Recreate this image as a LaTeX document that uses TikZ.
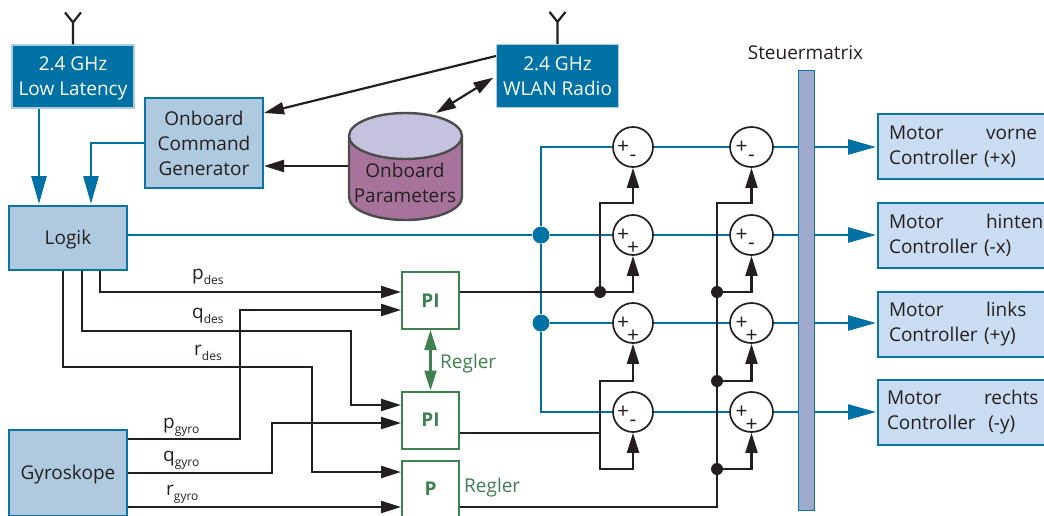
\documentclass[tikz,border=0pt]{standalone}
\usepackage{fontspec}
\setmainfont{Open Sans}
\usetikzlibrary{positioning, arrows.meta, shapes.geometric, calc}
\definecolor{dkblue}{HTML}{0071A4}
\definecolor{lineblue}{HTML}{0A75A5}
\definecolor{ltblue}{HTML}{AFCADF}
\definecolor{motorblue}{HTML}{CADCF1}
\definecolor{barblue}{HTML}{9FA9CC}
\definecolor{inkblack}{HTML}{231F20}
\definecolor{ctrlgreen}{HTML}{3F8050}
\definecolor{parambody}{HTML}{A8739B}
\definecolor{paramtop}{HTML}{C5C2DF}
\newcommand{\siglabel}[2]{#1\raisebox{-5pt}{\fontsize{12}{12}\selectfont #2}}
\newcommand{\motorline}[2]{\makebox[97pt][l]{#1}#2}
\newcommand{\pushdown}{\rule{0pt}{18pt}}

\begin{document}
\begin{tikzpicture}[
        x=1pt, y=-1pt,
        font=\fontsize{19}{25}\selectfont,
        text=inkblack,
        radio/.style={draw=ltblue, line width=1.2pt, fill=dkblue, text=white, minimum width=122pt, minimum height=63pt, inner sep=0pt, align=center},
        logicbox/.style={draw=lineblue, line width=2pt, fill=ltblue, minimum width=118pt, inner sep=0pt, align=center},
        motorbox/.style={draw=lineblue, line width=2pt, fill=motorblue, minimum width=182pt, minimum height=65pt, inner xsep=11pt, inner ysep=0pt, text width=160pt, align=left, anchor=north west},
        ctrl/.style={draw=ctrlgreen, line width=2pt, fill=white, text=ctrlgreen, font=\fontsize{19}{25}\selectfont\bfseries, minimum size=57pt, inner sep=0pt},
        sumA/.style={circle, draw=inkblack, line width=1.7pt, fill=white, minimum size=40pt, inner sep=0pt},
        sumB/.style={ellipse, draw=inkblack, line width=1.7pt, fill=white, minimum width=43pt, minimum height=40pt, inner sep=0pt},
        sign/.style={font=\fontsize{21}{21}\selectfont, inner sep=0pt},
        upplus/.style={label={[sign, xshift=-10pt]center:+}},
        lowplus/.style={label={[sign, yshift=-13pt]center:+}},
        lowminus/.style={label={[sign, yshift=-11pt]center:-}},
        bjoin/.style={circle, fill=dkblue, minimum size=17pt, inner sep=0pt},
        kjoin/.style={circle, fill=inkblack, minimum size=12pt, inner sep=0pt},
        sig/.style={anchor=base west, inner sep=0pt},
        can/.style={draw=black!70, line width=2.4pt},
        blarr/.style={line width=2.7pt, draw=dkblue, -{Triangle[length=28pt, width=15pt]}, shorten >=1pt},
        blline/.style={line width=2.7pt, draw=dkblue},
        karr/.style={line width=2.2pt, draw=inkblack, -{Triangle[length=20pt, width=12pt]}},
        kline/.style={line width=2.2pt, draw=inkblack},
    ]
    \clip (0,0) rectangle (1044,515);

    % Radio links
    \node[radio] (low) at (73,76.5) {\pushdown 2.4 GHz\\Low Latency};
    \node[radio] (wlan) at (557.5,76) {2.4 GHz\\WLAN Radio};
    \draw[kline] (low.north) -- ++(0,-22) -- ++(-8,-10) ++(8,10) -- ++(8,-10);
    \draw[kline] (wlan.north) -- ++(0,-22) -- ++(-8,-10) ++(8,10) -- ++(8,-10);

    % Onboard blocks
    \node[logicbox, minimum height=90pt] (gen) at (204,143) {Onboard\\Command\\Generator};
    \draw[can, fill=parambody] (349,136) -- (349,197) arc[start angle=180, end angle=360, x radius=56.5pt, y radius=23pt] -- (462,136);
    \draw[can, fill=paramtop] (405.5,136) ellipse [x radius=56.5pt, y radius=23pt];
    \node[minimum width=113pt, inner sep=0pt, align=center] (param) at (405,183) {Onboard\\Parameters};
    \coordinate (cantop) at (436,113);

    % Logic and sensors
    \node[logicbox, minimum height=64pt] (logik) at (68,238) {\pushdown Logik};
    \node[logicbox, minimum height=86pt] (gyro) at (68,473) {\pushdown Gyroskope};

    % Controllers
    \node[ctrl] (pi1) at (430.5,300.5) {PI};
    \node[ctrl, below=60.5pt of pi1] (pi2) {PI};
    \node[ctrl, below=10pt of pi2] (p3) {P};
    \node[text=ctrlgreen, sig] (regler1) at (440,368) {Regler};
    \node[text=ctrlgreen, sig] (regler2) at (464,492) {Regler};

    % Mixer sums
    \node[sumA, upplus, lowminus] (s11) at (633,147) {};
    \node[sumA, upplus, lowplus] (s21) at (633,235) {};
    \node[sumA, upplus, lowplus] (s31) at (633,323) {};
    \node[sumA, upplus, lowminus] (s41) at (633,412) {};
    \node[sumB, upplus, lowminus] (s12) at (751.5,147) {};
    \node[sumB, upplus, lowminus] (s22) at (751.5,235) {};
    \node[sumB, upplus, lowplus] (s32) at (751.5,323) {};
    \node[sumB, upplus, lowplus] (s42) at (751.5,412) {};

    % Steuermatrix and motors
    \node[draw=lineblue, line width=1.6pt, fill=barblue, minimum width=16pt, minimum height=440pt, inner sep=0pt] (bar) at (806.5,290.5) {};
    \node[inner sep=0pt] (bartext) at (805.5,53) {Steuermatrix};
    \node[motorbox] (m1) at (877,113) {\motorline{Motor}{vorne}\\Controller (+x)};
    \node[motorbox, below=22pt of m1] (m2) {\motorline{Motor}{hinten}\\Controller (-x)};
    \node[motorbox, below=22pt of m2] (m3) {\motorline{Motor}{links}\\Controller (+y)};
    \node[motorbox, below=21pt of m3] (m4) {\hspace*{-2pt}\motorline{Motor}{rechts}\\\hspace*{-2pt}Controller\ \ (-y)};

    % Junctions
    \node[bjoin] (j1) at (541,235) {};
    \node[bjoin] (j2) at (541,323) {};
    \node[kjoin] (k1) at (600,292) {};
    \coordinate (k5) at (600,433);
    \node[kjoin] (k2) at (717,292) {};
    \node[kjoin] (k3) at (717,381) {};
    \node[kjoin] (k4) at (717,469) {};

    % Blue signal paths
    \draw[blarr] (low.south -| 39,0) -- (logik.north -| 39,0);
    \draw[blarr] (gen.west) -| (logik.north -| 91,0);
    \draw[blline] (j1 -| logik.east) -- (j1) -- (j2);
    \draw[blline] (s11.west) -| (j1);
    \draw[blline] (j1) -- (s21.west);
    \draw[blline] (j2) -- (s31.west);
    \draw[blline] (s41.west) -| (j2);
    \draw[blline] (s11) -- (s12);
    \draw[blline] (s21) -- (s22);
    \draw[blline] (s31) -- (s32);
    \draw[blline] (s41) -- (s42);
    \draw[blline] (s12.east) -- (s12.east -| bar.west);
    \draw[blline] (s22.east) -- (s22.east -| bar.west);
    \draw[blline] (s32.east) -- (s32.east -| bar.west);
    \draw[blline] (s42.east) -- (s42.east -| bar.west);
    \draw[blarr] (s12.east -| bar.east) -- (s12.east -| m1.west);
    \draw[blarr] (s22.east -| bar.east) -- (s22.east -| m2.west);
    \draw[blarr] (s32.east -| bar.east) -- (s32.east -| m3.west);
    \draw[blarr] (s42.east -| bar.east) -- (s42.east -| m4.west);

    % Onboard arrows
    \draw[karr] ([yshift=20pt]wlan.west) -- ([yshift=30pt]gen.east);
    \draw[karr, {Triangle[length=20pt, width=12pt]}-{Triangle[length=20pt, width=12pt]}, shorten <=3pt] (wlan.west) -- (cantop);
    \draw[karr] (param.west |- 0,166) -- ([yshift=-23pt]gen.east);

    % Desired rates
    \draw[karr] (logik.south -| 100,0) |- (pi1.west |- 0,292);
    \draw[karr] (logik.south -| 82,0) |- (351,331) |- (pi2.west |- 0,405);
    \draw[karr] (logik.south -| 63,0) |- (312,367) |- (p3.west |- 0,472);
    \node[sig] (pdes) at (192,279) {\siglabel{p}{des}};
    \node[sig] (qdes) at (192,318) {\siglabel{q}{des}};
    \node[sig] (rdes) at (194,355) {\siglabel{r}{des}};

    % Gyro rates
    \draw[karr] (gyro.east |- 0,439) -| (240,310) -- (pi1.west |- 0,310);
    \draw[karr] (gyro.east |- 0,473) -| (272,423) -- (pi2.west |- 0,423);
    \draw[karr] (gyro.east |- 0,507) -- (p3.west |- 0,507);
    \node[sig] (pgyro) at (163,428) {\siglabel{p}{gyro}};
    \node[sig] (qgyro) at (163,461) {\siglabel{q}{gyro}};
    \node[sig] (rgyro) at (166,495) {\siglabel{r}{gyro}};

    % Controller coupling
    \draw[line width=2.2pt, draw=ctrlgreen, {Triangle[length=20pt, width=12pt]}-{Triangle[length=20pt, width=12pt]}] (pi1.south) -- (pi2.north);

    % Controller outputs to first column
    \draw[kline] (pi1.east |- k1) -- (k1);
    \draw[karr] (k1) -| (s21.south);
    \draw[karr] (k1.center) |- (633,203) -- (s11.south);
    \draw[kline] (pi2.east |- k5) -- (k5);
    \draw[karr] (k5) |- (633,381) -- (s31.south);
    \draw[karr] (k5) |- (633,469) -- (s41.south);

    % Controller output to second column
    \draw[kline] (p3.east |- 0,507) -| (k4);
    \draw[kline] (k4) -- (k3) -- (k2);
    \draw[karr] (k4) -| (s42.south);
    \draw[karr] (k3) -| (s32.south);
    \draw[karr] (k2) -| (s22.south);
    \draw[karr] (k2.center) |- (751.5,203) -- (s12.south);
\end{tikzpicture}
\end{document}
